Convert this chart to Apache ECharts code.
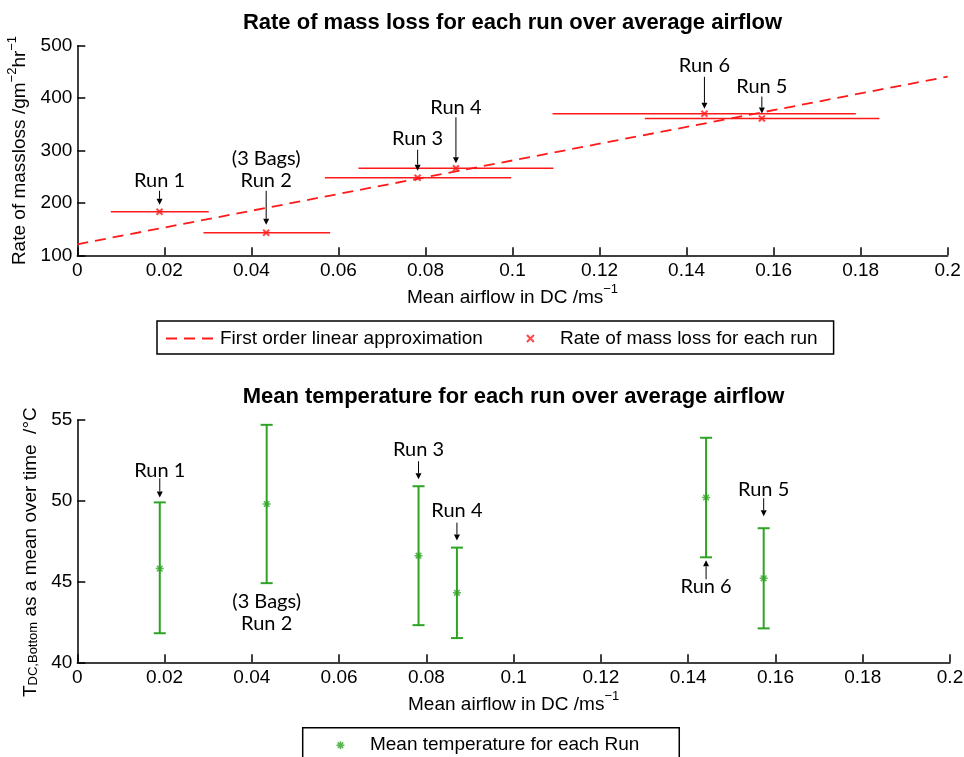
<!DOCTYPE html>
<html><head><meta charset="utf-8">
<script src="https://cdn.jsdelivr.net/npm/echarts@6/dist/echarts.min.js"></script>
<style>html,body{margin:0;padding:0;background:#fff}#c{width:964px;height:757px}</style>
</head><body><div id="c"></div>
<script>
// ---- data ----
const runs = ['Run 1', 'Run 2', 'Run 3', 'Run 4', 'Run 5', 'Run 6'];
const airflow = [0.0189, 0.0434, 0.0782, 0.0870, 0.1573, 0.1441];
const airflowLow = [0.0077, 0.0290, 0.0569, 0.0646, 0.1304, 0.1092];
const airflowHigh = [0.0302, 0.0581, 0.0997, 0.1094, 0.1843, 0.1789];
const massLoss = [183, 143, 248, 266, 361, 370];
const fitX = [0, 0.2];
const fitY = [121, 441];
const tempMean = [45.8, 49.8, 46.6, 44.3, 45.2, 50.2];
const tempLow = [41.8, 44.9, 42.3, 41.5, 42.1, 46.5];
const tempHigh = [49.9, 54.7, 50.9, 47.1, 48.3, 53.9];
const xTickStep = 0.02;

// ---- annotation layout (pixel offsets from anchor) ----
const topNotes = [
  {text: 'Run 1', dy: -31, from: -21, to: -7},
  {text: '(3 Bags)\nRun 2', dy: -63, from: -42, to: -8},
  {text: 'Run 3', dy: -39, from: -28, to: -7},
  {text: 'Run 4', dy: -61, from: -51, to: -5},
  {text: 'Run 5', dy: -32, from: -22, to: -5},
  {text: 'Run 6', dy: -48, from: -37, to: -5}
];
const bottomNotes = [
  {text: 'Run 1', anchor: 'high', dy: -32, from: -24, to: -5},
  {text: '(3 Bags)\nRun 2', anchor: 'low', dy: 29},
  {text: 'Run 3', anchor: 'high', dy: -37, from: -25, to: -7},
  {text: 'Run 4', anchor: 'high', dy: -37, from: -25, to: -7},
  {text: 'Run 5', anchor: 'high', dy: -39, from: -30, to: -12},
  {text: 'Run 6', anchor: 'low', dy: 29, from: 22, to: 3}
];

const FONT = 'Liberation Sans, Arial, Helvetica, sans-serif';
const NOTE_FONT = '20px Lato, "Open Sans", sans-serif';
const RED = '#ff1a1a';
const GREEN = '#2fa324';

function arrowEls(x, y1, y2) {
  const dir = y2 > y1 ? 1 : -1;
  const head = 6;
  return [
    {type: 'line', shape: {x1: x, y1: y1, x2: x, y2: y2 - dir * head}, style: {stroke: '#000', lineWidth: 1}},
    {type: 'polygon', shape: {points: [[x, y2], [x - 3, y2 - dir * head], [x + 3, y2 - dir * head]]}, style: {fill: '#000'}}
  ];
}
function noteRenderer(notes) {
  return function (params, api) {
    const i = api.value(3);
    const n = notes[i];
    const yv = n.anchor === 'low' ? api.value(1) : api.value(2);
    const p = api.coord([api.value(0), yv]);
    const children = [{
      type: 'text', x: p[0], y: p[1] + n.dy,
      style: {text: n.text, align: 'center', verticalAlign: 'middle', font: NOTE_FONT, fill: '#000', lineHeight: 22}
    }];
    if (n.from !== undefined) children.push(...arrowEls(p[0], p[1] + n.from, p[1] + n.to));
    return {type: 'group', children: children};
  };
}

const supRich = {
  n: {fontFamily: FONT, fontSize: 19, color: '#000', lineHeight: 28},
  sup: {fontFamily: FONT, fontSize: 13, color: '#000', lineHeight: 12, verticalAlign: 'top'}
};
const subRich = {
  n: {fontFamily: FONT, fontSize: 19, color: '#000', lineHeight: 20},
  sub: {fontFamily: FONT, fontSize: 13, color: '#000', lineHeight: 13, verticalAlign: 'bottom'}
};

function xAxisCfg(gridIndex) {
  return {
    type: 'value', gridIndex: gridIndex, min: 0, max: 0.2, interval: xTickStep,
    name: '{n|Mean airflow in DC /ms}{sup|\u22121}', nameLocation: 'middle', nameGap: 28,
    nameTextStyle: {rich: supRich},
    axisLine: {show: true, onZero: false, lineStyle: {color: '#000', width: 1.5}},
    axisTick: {show: true, inside: true, length: 8, lineStyle: {color: '#000', width: 1.5}},
    axisLabel: {color: '#000', fontFamily: FONT, fontSize: 19, margin: 6,
      formatter: v => String(+v.toFixed(2))},
    splitLine: {show: false}
  };
}

const option = {
  animation: false,
  backgroundColor: '#fff',
  graphic: [
    {type: 'text', x: 512.5, y: 23, style: {text: 'Rate of mass loss for each run over average airflow',
      align: 'center', verticalAlign: 'middle', font: 'bold 22px ' + FONT, fill: '#000'}},
    {type: 'text', x: 513.5, y: 397, style: {text: 'Mean temperature for each run over average airflow',
      align: 'center', verticalAlign: 'middle', font: 'bold 22px ' + FONT, fill: '#000'}}
  ],
  grid: [
    {left: 77.3, right: 16.3, top: 45.7, height: 209.6, outerBoundsMode: 'none', containLabel: false},
    {left: 77.3, right: 14, top: 420, height: 242.3, outerBoundsMode: 'none', containLabel: false}
  ],
  xAxis: [xAxisCfg(0), xAxisCfg(1)],
  yAxis: [
    {type: 'value', gridIndex: 0, min: 100, max: 500, interval: 100,
      name: '{n|Rate of massloss /gm}{sup|\u22122}{n|hr}{sup|\u22121}', nameLocation: 'middle', nameRotate: 90, nameGap: 35,
      nameTextStyle: {rich: supRich},
      axisLine: {show: true, onZero: false, lineStyle: {color: '#000', width: 1.5}},
      axisTick: {show: true, inside: true, length: 8, lineStyle: {color: '#000', width: 1.5}},
      axisLabel: {color: '#000', fontFamily: FONT, fontSize: 19, margin: 5},
      splitLine: {show: false}},
    {type: 'value', gridIndex: 1, min: 40, max: 55, interval: 5,
      name: '{n|T}{sub|DC,Bottom}{n| as a mean over time  /\u00B0C}', nameLocation: 'middle', nameRotate: 90, nameGap: 32,
      nameTextStyle: {rich: subRich, padding: [0, 22, 0, 0]},
      axisLine: {show: true, onZero: false, lineStyle: {color: '#000', width: 1.5}},
      axisTick: {show: true, inside: true, length: 8, lineStyle: {color: '#000', width: 1.5}},
      axisLabel: {color: '#000', fontFamily: FONT, fontSize: 19, margin: 5},
      splitLine: {show: false}}
  ],
  legend: [
    {left: 157, top: 321, orient: 'horizontal', padding: [8, 16, 6, 8], itemGap: 43,
      itemWidth: 49, itemHeight: 7, borderColor: '#000', borderWidth: 1.5, backgroundColor: '#fff',
      textStyle: {fontFamily: FONT, fontSize: 19, color: '#000'},
      selectedMode: false,
      data: [
        {name: 'First order linear approximation', itemStyle: {color: 'transparent', borderWidth: 0, borderColor: 'transparent'}},
        {name: 'Rate of mass loss for each run', itemStyle: {color: 'transparent', borderColor: RED, borderWidth: 2}}
      ]},
    {left: 302.7, top: 727.7, orient: 'horizontal', padding: [8, 40, 6, 33],
      itemWidth: 49, itemHeight: 8, borderColor: '#000', borderWidth: 1.5, backgroundColor: '#fff',
      textStyle: {fontFamily: FONT, fontSize: 19, color: '#000'},
      selectedMode: false,
      data: [{name: 'Mean temperature for each Run', itemStyle: {color: 'transparent', borderColor: GREEN, borderWidth: 1.5}}]}
  ],
  series: [
    {name: 'First order linear approximation', type: 'line', xAxisIndex: 0, yAxisIndex: 0,
      data: fitX.map((x, i) => [x, fitY[i]]), symbol: 'none', showSymbol: false, silent: true,
      lineStyle: {color: RED, width: 1.8, type: [11, 7]}, itemStyle: {color: RED}, z: 2},
    {type: 'custom', xAxisIndex: 0, yAxisIndex: 0, silent: true, clip: false, z: 3,
      data: runs.map((r, i) => [airflowLow[i], airflowHigh[i], massLoss[i]]),
      encode: {x: [0, 1], y: 2},
      renderItem: function (params, api) {
        const a = api.coord([api.value(0), api.value(2)]);
        const b = api.coord([api.value(1), api.value(2)]);
        return {type: 'line', shape: {x1: a[0], y1: a[1], x2: b[0], y2: b[1]}, style: {stroke: RED, lineWidth: 1.6}};
      }},
    {name: 'Rate of mass loss for each run', type: 'scatter', xAxisIndex: 0, yAxisIndex: 0,
      data: runs.map((r, i) => [airflow[i], massLoss[i]]),
      symbol: 'path://M0,0L10,10M10,0L0,10', symbolSize: 6,
      itemStyle: {color: 'transparent', borderColor: RED, borderWidth: 2}, z: 4},
    {type: 'custom', xAxisIndex: 0, yAxisIndex: 0, silent: true, clip: false, z: 5,
      data: runs.map((r, i) => [airflow[i], massLoss[i], massLoss[i], i]),
      encode: {x: 0, y: 1},
      renderItem: noteRenderer(topNotes)},
    {type: 'custom', xAxisIndex: 1, yAxisIndex: 1, silent: true, clip: false, z: 3,
      data: runs.map((r, i) => [airflow[i], tempLow[i], tempHigh[i]]),
      encode: {x: 0, y: [1, 2]},
      renderItem: function (params, api) {
        const lo = api.coord([api.value(0), api.value(1)]);
        const hi = api.coord([api.value(0), api.value(2)]);
        const w = 6;
        const st = {stroke: GREEN, lineWidth: 2};
        return {type: 'group', children: [
          {type: 'line', shape: {x1: lo[0], y1: lo[1], x2: hi[0], y2: hi[1]}, style: st},
          {type: 'line', shape: {x1: lo[0] - w, y1: lo[1], x2: lo[0] + w, y2: lo[1]}, style: st},
          {type: 'line', shape: {x1: hi[0] - w, y1: hi[1], x2: hi[0] + w, y2: hi[1]}, style: st}
        ]};
      }},
    {name: 'Mean temperature for each Run', type: 'scatter', xAxisIndex: 1, yAxisIndex: 1,
      data: runs.map((r, i) => [airflow[i], tempMean[i]]),
      symbol: 'path://M5,0L5,10M0,5L10,5M1.5,1.5L8.5,8.5M8.5,1.5L1.5,8.5', symbolSize: 8,
      itemStyle: {color: 'transparent', borderColor: GREEN, borderWidth: 1.5}, z: 4},
    {type: 'custom', xAxisIndex: 1, yAxisIndex: 1, silent: true, clip: false, z: 5,
      data: runs.map((r, i) => [airflow[i], tempLow[i], tempHigh[i], i]),
      encode: {x: 0, y: [1, 2]},
      renderItem: noteRenderer(bottomNotes)}
  ]
};

const chart = echarts.init(document.getElementById('c'), null, {renderer: 'canvas'});
chart.setOption(option);
</script></body></html>
